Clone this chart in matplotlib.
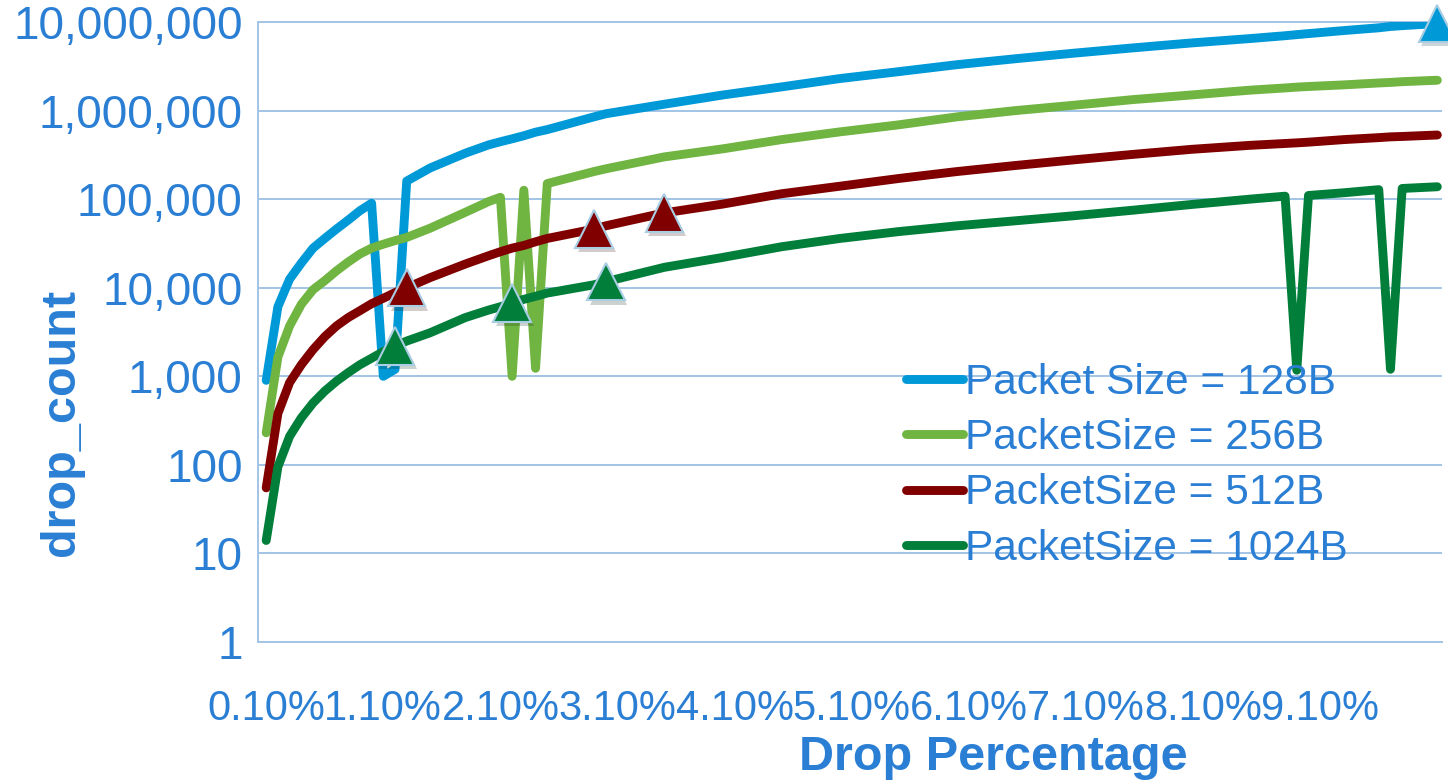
import numpy as np
import matplotlib
matplotlib.use("Agg")
import matplotlib.pyplot as plt
from matplotlib.ticker import FixedLocator, LogLocator, NullFormatter
import matplotlib.patheffects as pe

plt.rcParams['font.family'] = ['Liberation Sans', 'DejaVu Sans']

# drop percentage (%) of each sample
pct = [0.1, 0.2, 0.3, 0.4, 0.5, 0.6, 0.7, 0.8, 0.9, 1.0, 1.1, 1.2, 1.3, 1.5,
       1.8, 2.0, 2.1, 2.2, 2.3, 2.4, 2.5, 2.9, 3.0, 3.5, 4.0, 4.5, 5.0, 5.5,
       6.0, 6.5, 7.0, 7.5, 8.0, 8.5, 8.8, 8.9, 9.0, 9.3, 9.6, 9.7, 9.8, 10.1]

drop_128 = [900, 6100, 12500, 19000, 28000, 36000, 46000, 58000, 74000,
            90000, 1000, 1200, 160000, 225000, 330000, 410000, 445000, 480000,
            520000, 570000, 610000, 850000, 920000, 1180000, 1500000, 1850000,
            2300000, 2750000, 3300000, 3850000, 4450000, 5100000, 5800000,
            6500000, 7000000, 7200000, 7400000, 8000000, 8600000, 8900000,
            9100000, 9600000]
drop_256 = [230, 1650, 3700, 6500, 9500, 12000, 15500, 19500, 24000, 28000,
            31000, 34000, 37000, 47000, 71000, 94000, 105000, 1000, 126000,
            1230, 150000, 205000, 220000, 300000, 370000, 470000, 575000,
            690000, 850000, 1000000, 1150000, 1330000, 1500000, 1700000,
            1800000, 1840000, 1870000, 1950000, 2050000, 2080000, 2120000,
            2200000]
drop_512 = [55, 380, 850, 1350, 2000, 2800, 3700, 4600, 5500, 6600, 7600,
            8800, 10000, 13000, 18500, 23000, 25500, 28000, 30000, 33000,
            36000, 46000, 50000, 70000, 88000, 115000, 140000, 171000, 205000,
            240000, 278000, 320000, 365000, 405000, 425000, 432000, 440000,
            470000, 495000, 505000, 510000, 530000]
drop_1024 = [14, 95, 210, 340, 500, 680, 880, 1100, 1350, 1600, 1900, 2200,
             2500, 3100, 4600, 5600, 6100, 6700, 7400, 8000, 8700, 10800,
             11700, 17000, 22000, 29000, 36000, 43000, 50000, 57000, 65000,
             75000, 87000, 100000, 108000, 1170, 110000, 118000, 128000, 1200,
             132000, 138000]

labels = ["Packet Size = 128B", "PacketSize = 256B",
          "PacketSize = 512B", "PacketSize = 1024B"]
colors = ["#0099D8", "#70B442", "#800000", "#007E3A"]
series = [drop_128, drop_256, drop_512, drop_1024]
# points highlighted with triangles, per series
marked = [[10.1], [], [1.3, 2.9, 3.5], [1.2, 2.2, 3.0]]

xticks = [0.1, 1.1, 2.1, 3.1, 4.1, 5.1, 6.1, 7.1, 8.1, 9.1]
xtick_labels = ["%.2f%%" % t for t in xticks]
yticks = [1, 10, 100, 1000, 10000, 100000, 1000000, 10000000]
ytick_labels = ["{:,}".format(t) for t in yticks]

txt_c = "#2A7FD4"
grid_c = "#A3C4E6"

fig = plt.figure(figsize=(14.48, 7.84), dpi=100)
ax = fig.add_axes([258/1448, 1-642/784, (1442-258)/1448, (642-22)/784])

handles = []
for y, c, lab, mk in zip(series, colors, labels, marked):
    h, = ax.plot(pct, y, color=c, lw=6.4, solid_capstyle='round',
                 solid_joinstyle='round', label=lab, zorder=3)
    handles.append(h)
    if mk:
        idx = [pct.index(m) for m in mk]
        ax.plot([pct[i] for i in idx], [y[i] for i in idx], ls='none',
                marker='^', ms=27, mfc=c, mec="#A9CDE3", mew=1.5,
                clip_on=False, zorder=4,
                path_effects=[pe.SimplePatchShadow(offset=(2, -3), alpha=0.2),
                              pe.Normal()])

ax.set_yscale('log')
ax.set_ylim(1, 1e7)
ax.set_xlim(0.03, 10.14)

ax.yaxis.set_major_locator(FixedLocator(yticks))
ax.set_yticklabels(ytick_labels)
ax.yaxis.set_minor_locator(LogLocator(base=10, subs=np.arange(2, 10)))
ax.yaxis.set_minor_formatter(NullFormatter())
ax.set_xticks(xticks)
ax.set_xticklabels(xtick_labels)

ax.tick_params(axis='y', which='major', length=0, pad=11, labelsize=33,
               labelcolor=txt_c)
ax.tick_params(axis='y', which='minor', direction='in', length=8, width=1.2,
               color=grid_c)
ax.tick_params(axis='x', length=0, pad=34, labelsize=30, labelcolor=txt_c)

ax.grid(True, axis='y', which='major', color=grid_c, lw=1.4)
ax.set_axisbelow(True)
for s in ['left', 'bottom', 'top']:
    ax.spines[s].set_color(grid_c)
    ax.spines[s].set_linewidth(1.4)
ax.spines['right'].set_visible(False)

fig.text(62/1448, 1-422/784, "drop_count", rotation=90, ha='center',
         va='center', fontsize=35, fontweight='bold', color=txt_c)
fig.text(993/1448, 1-758/784, "Drop Percentage", ha='center', va='center',
         fontsize=35, fontweight='bold', color=txt_c)

leg = ax.legend(handles=handles, loc='upper left', frameon=False,
                bbox_to_anchor=(906/1448, 1-363/784),
                bbox_transform=fig.transFigure, fontsize=30.5,
                labelcolor=txt_c, handlelength=1.35, handletextpad=0.05,
                labelspacing=0.36, borderpad=0, borderaxespad=0)

fig.savefig("out.png", dpi=100)
